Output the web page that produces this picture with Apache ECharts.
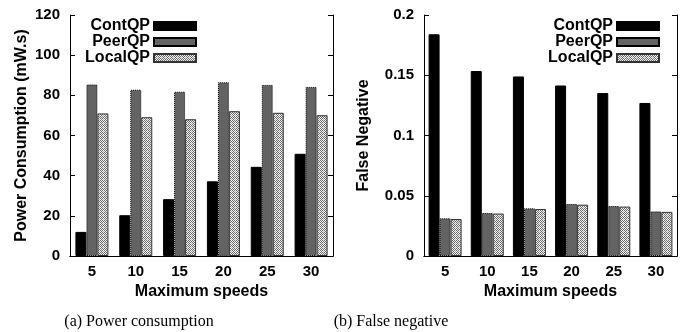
<!DOCTYPE html>
<html>
<head>
<meta charset="utf-8">
<script src="https://cdn.jsdelivr.net/npm/echarts@6/dist/echarts.min.js"></script>
<style>
  html, body { margin: 0; padding: 0; background: #fff; }
  #chart { width: 689px; height: 332px; }
</style>
</head>
<body>
<div id="chart"></div>
<script>
  // data
  const speeds = ['5', '10', '15', '20', '25', '30'];
  const seriesNames = ['ContQP', 'PeerQP', 'LocalQP'];

  const powerCont = [12, 20.3, 28.3, 37.2, 44.4, 50.9];
  const powerPeer = [85.4, 82.8, 81.8, 86.5, 85.2, 84.2];
  const powerLocal = [71, 69.1, 68.1, 72.1, 71.3, 70.1];

  const fnCont = [0.184, 0.1535, 0.149, 0.1415, 0.1352, 0.127];
  const fnPeer = [0.0313, 0.0357, 0.0396, 0.0432, 0.0415, 0.037];
  const fnLocal = [0.0307, 0.0352, 0.039, 0.0426, 0.041, 0.0366];

  const FONT = '"Liberation Sans", Arial, sans-serif';

  // dotted crosshatch for LocalQP
  function makePattern() {
    const c = document.createElement('canvas');
    c.width = 4; c.height = 4;
    const ctx = c.getContext('2d');
    ctx.fillStyle = '#f2f2f2';
    ctx.fillRect(0, 0, 4, 4);
    const dark = [[0, 0], [2, 0], [1, 1], [3, 1], [0, 2], [2, 2], [1, 3]];
    ctx.fillStyle = '#6a6a6a';
    dark.forEach(p => ctx.fillRect(p[0], p[1], 1, 1));
    ctx.fillStyle = '#b0b0b0';
    ctx.fillRect(3, 3, 1, 1);
    return { image: c, repeat: 'repeat' };
  }
  const pattern = makePattern();

  const styles = [
    { color: '#000000', borderColor: '#000000', borderWidth: 1 },
    { color: '#636363', borderColor: '#000000', borderWidth: 1, borderType: 'dotted' },
    { color: pattern, borderColor: '#333333', borderWidth: 1 }
  ];

  const labelStyle = { color: '#000', fontFamily: FONT, fontWeight: 'bold', fontSize: 15 };
  const nameStyle = { color: '#000', fontFamily: FONT, fontWeight: 'bold', fontSize: 16 };

  function xAxes(grid) {
    return [
      {
        type: 'category', gridIndex: grid, data: speeds, position: 'bottom',
        name: 'Maximum speeds', nameLocation: 'middle', nameGap: 22, nameTextStyle: nameStyle,
        axisLine: { lineStyle: { color: '#000', width: 1 } },
        axisTick: { inside: true, length: 5, alignWithLabel: true, lineStyle: { color: '#000' } },
        axisLabel: Object.assign({ margin: 8 }, labelStyle)
      },
      {
        type: 'category', gridIndex: grid, data: speeds, position: 'top',
        axisLine: { lineStyle: { color: '#000', width: 1 } },
        axisTick: { inside: true, length: 5, alignWithLabel: true, lineStyle: { color: '#000' } },
        axisLabel: { show: false }
      }
    ];
  }

  function yAxes(grid, max, interval, name, gap) {
    return [
      {
        type: 'value', gridIndex: grid, min: 0, max: max, interval: interval, position: 'left',
        name: name, nameLocation: 'middle', nameGap: gap, nameTextStyle: nameStyle,
        axisLine: { show: true, lineStyle: { color: '#000', width: 1 } },
        axisTick: { show: true, inside: true, length: 5, lineStyle: { color: '#000' } },
        axisLabel: Object.assign({ margin: 10 }, labelStyle),
        splitLine: { show: false }
      },
      {
        type: 'value', gridIndex: grid, min: 0, max: max, interval: interval, position: 'right',
        axisLine: { show: true, lineStyle: { color: '#000', width: 1 } },
        axisTick: { show: true, inside: true, length: 5, lineStyle: { color: '#000' } },
        axisLabel: { show: false },
        splitLine: { show: false }
      }
    ];
  }

  function bars(grid, lists) {
    return lists.map((vals, i) => ({
      name: seriesNames[i],
      type: 'bar',
      xAxisIndex: grid * 2,
      yAxisIndex: grid * 2,
      data: vals,
      barWidth: 11,
      barGap: '0%',
      itemStyle: styles[i],
      emphasis: { disabled: true }
    }));
  }

  function legend(rightPos) {
    return {
      orient: 'vertical', align: 'right', right: rightPos, top: 18,
      padding: 0, itemGap: 0, itemWidth: 42, itemHeight: 8,
      icon: 'rect', selectedMode: false,
      data: seriesNames,
      textStyle: { color: '#000', fontFamily: FONT, fontWeight: 'bold', fontSize: 16, lineHeight: 16, padding: [0, -1, 0, 0] }
    };
  }

  const myChart = echarts.init(document.getElementById('chart'));

  const captionStyle = { fontFamily: '"Liberation Serif", "Times New Roman", serif', fontWeight: 'normal', fontSize: 16, color: '#000' };

  const option = {
    animation: false,
    backgroundColor: '#fff',
    title: [
      { text: '(a) Power consumption', left: 134, top: 309, textAlign: 'center', textStyle: captionStyle },
      { text: '(b) False negative', left: 386, top: 309, textAlign: 'center', textStyle: captionStyle }
    ],
    legend: [legend(492), legend(29)],
    grid: [
      { left: 70, right: 356, top: 15, bottom: 76 },
      { left: 424, right: 12, top: 15, bottom: 76 }
    ],
    xAxis: xAxes(0).concat(xAxes(1)),
    yAxis: yAxes(0, 120, 20, 'Power Consumption (mW.s)', 40)
      .concat(yAxes(1, 0.2, 0.05, 'False Negative', 52)),
    series: bars(0, [powerCont, powerPeer, powerLocal])
      .concat(bars(1, [fnCont, fnPeer, fnLocal]))
  };

  myChart.setOption(option);
</script>
</body>
</html>
